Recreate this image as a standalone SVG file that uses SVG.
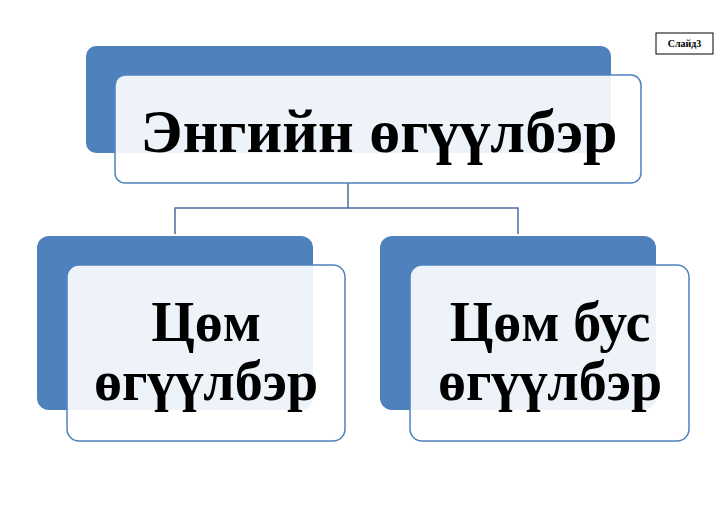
<svg xmlns="http://www.w3.org/2000/svg" width="728" height="515" viewBox="0 0 728 515">
<style>
.back{fill:#4f81bd;}
.front{fill:#ffffff;fill-opacity:0.9;stroke:#4f81bd;stroke-width:1.5;}
.t{font-family:"Liberation Serif","Times New Roman",serif;font-weight:bold;fill:#000;text-anchor:middle;}
.conn{fill:none;stroke:#4a6f9f;stroke-width:1.5;}
</style>
<rect width="728" height="515" fill="#ffffff"/>
<g id="slide-label">
<rect x="656" y="33" width="57" height="21" fill="#fff" stroke="#000" stroke-width="1"/>
<text class="t" x="684.5" y="47" font-size="10">Слайд3</text>
</g>
<g id="connectors">
<path class="conn" d="M348 183 V208 M175 234 V208 H518 V234"/>
</g>
<g id="node-top">
<rect class="back" x="86" y="46" width="525" height="107" rx="10"/>
<rect class="front" x="115" y="75" width="526" height="108" rx="10"/>
<text class="t" x="379" y="152" font-size="62">Энгийн өгүүлбэр</text>
</g>
<g id="node-left">
<rect class="back" x="37" y="236" width="276" height="174" rx="12"/>
<rect class="front" x="67" y="265" width="278" height="176" rx="12"/>
<text class="t" x="206" y="341" font-size="56">Цөм</text>
<text class="t" x="206" y="400" font-size="56">өгүүлбэр</text>
</g>
<g id="node-right">
<rect class="back" x="380" y="236" width="276" height="174" rx="12"/>
<rect class="front" x="410" y="265" width="279" height="176" rx="12"/>
<text class="t" x="550" y="341" font-size="56">Цөм бус</text>
<text class="t" x="550" y="400" font-size="56">өгүүлбэр</text>
</g>
</svg>
